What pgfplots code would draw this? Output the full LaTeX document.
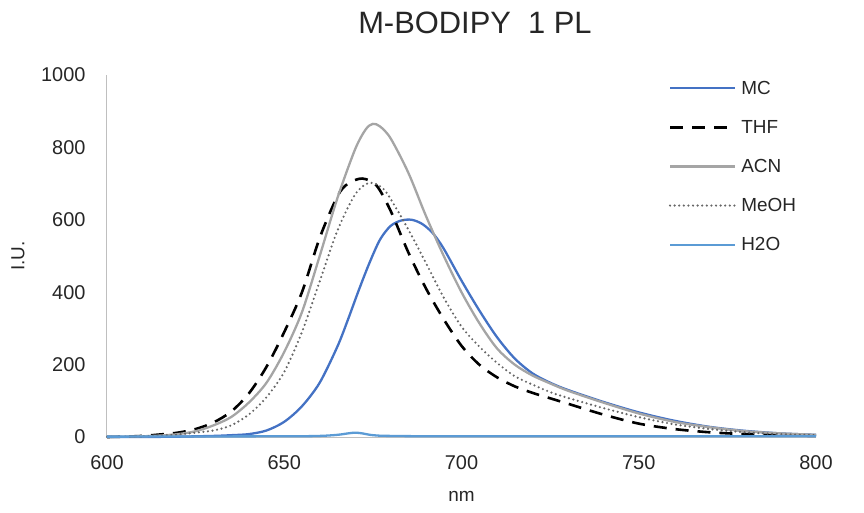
\documentclass[border=0pt]{standalone}
\usepackage{fontspec}
\setmainfont{Liberation Sans}
\usepackage{pgfplots}
\usepackage{pgfplotstable}
\pgfplotsset{compat=1.18}
\definecolor{mccol}{HTML}{4472C4}
\definecolor{h2ocol}{HTML}{5B9BD5}
\definecolor{acncol}{HTML}{A5A5A5}
\definecolor{meohcol}{HTML}{666666}
\definecolor{axcol}{HTML}{BFBFBF}

\pgfplotstableread{
x y
600 0
610 0
620 1
630 3
635 5
640 8
645 18
650 42
655 85
660 150
665 250
668 325
671 405
674 480
677 545
680 583
683 598
686 600
689 588
692 562
695 520
700 432
705 350
710 276
715 217
720 176
725 150
730 130
740 97
750 68
760 45
770 28
780 17
790 10
800 6
}\mc

\pgfplotstableread{
x y
600 0
605 1
610 3
615 7
620 12
625 22
630 40
635 70
640 120
645 194
650 290
655 400
660 550
665 665
668 700
672 714
676 695
680 625
685 510
690 410
695 325
700 252
705 200
710 165
715 140
720 122
725 107
730 92
740 62
750 37
760 22
770 13
780 8
790 5
800 3
}\thf

\pgfplotstableread{
x y
600 0
605 1
610 2
615 4
620 8
625 16
630 32
635 55
640 95
645 150
650 235
655 345
660 500
665 660
670 795
673 850
675 865
677 858
680 825
685 730
690 610
695 500
700 400
705 315
710 245
715 200
720 170
725 148
730 128
740 95
750 65
760 42
770 27
780 16
790 10
800 6
}\acn

\pgfplotstableread{
x y
600 0
605 1
610 2
615 4
620 7
625 12
630 18
635 32
640 62
645 110
650 180
655 290
660 430
665 570
670 670
674 702
678 685
682 625
686 555
690 480
695 385
700 305
705 250
710 205
715 168
720 145
725 124
730 108
740 80
750 55
760 35
770 22
780 13
790 8
800 5
}\meoh

\pgfplotstableread{
x y
600 1
650 2
660 3
665 6
668 10
670 12
672 10
675 5
680 3
700 2
800 2
}\water

\begin{document}
\begin{tikzpicture}
\path[use as bounding box] (-107bp,-76bp) rectangle (757bp,437bp);
\begin{axis}[
  at={(0,0)}, anchor=south west,
  scale only axis, width=709bp, height=362bp,
  xmin=600, xmax=800, ymin=0, ymax=1000,
  xtick={600,650,700,750,800},
  ytick={0,200,400,600,800,1000},
  axis x line*=bottom, axis y line*=left,
  axis line style={draw=axcol, line width=1bp, -},
  major tick length=0pt,
  /pgf/number format/assume math mode=true,
  /pgf/number format/1000 sep={},
  tick label style={font=\fontsize{20}{23}\selectfont, text=black!85},
  xticklabel style={yshift=-15bp},
  yticklabel style={xshift=-18bp},
  xlabel={nm}, ylabel={I.U.},
  label style={font=\fontsize{19}{22}\selectfont, text=black!85},
  xlabel style={at={(axis description cs:0.5,-0.165)}, anchor=center},
  ylabel style={at={(axis description cs:-0.1255,0.5)}, anchor=center},
  title={M-BODIPY\ \ 1 PL},
  title style={font=\fontsize{31}{34}\selectfont, text=black!85, at={(axis description cs:0.519,1.128)}, anchor=center},
  legend style={draw=none, fill=none, at={(axis description cs:0.792,0.99)}, anchor=north west,
    font=\fontsize{19}{22}\selectfont, text=black!85, row sep=20.5bp, inner sep=0pt},
  legend cell align=left,
  legend image code/.code={\draw[#1] (0bp,0bp) -- (65bp,0bp); \path (68bp,0bp);},
  clip=false,
]
\addplot[mccol, line width=2.3bp, smooth, no markers] table {\mc};
\addlegendentry{MC}
\addplot[black, line width=2.6bp, smooth, no markers, dash pattern=on 13bp off 9bp] table {\thf};
\addlegendentry{THF}
\addplot[acncol, line width=2.3bp, smooth, no markers] table {\acn};
\addlegendentry{ACN}
\addplot[meohcol, line width=2.4bp, smooth, no markers, line cap=round, dash pattern=on 0bp off 4.6bp] table {\meoh};
\addlegendentry{MeOH}
\addplot[h2ocol, line width=2.3bp, smooth, no markers] table {\water};
\addlegendentry{H2O}
\end{axis}
\end{tikzpicture}
\end{document}
